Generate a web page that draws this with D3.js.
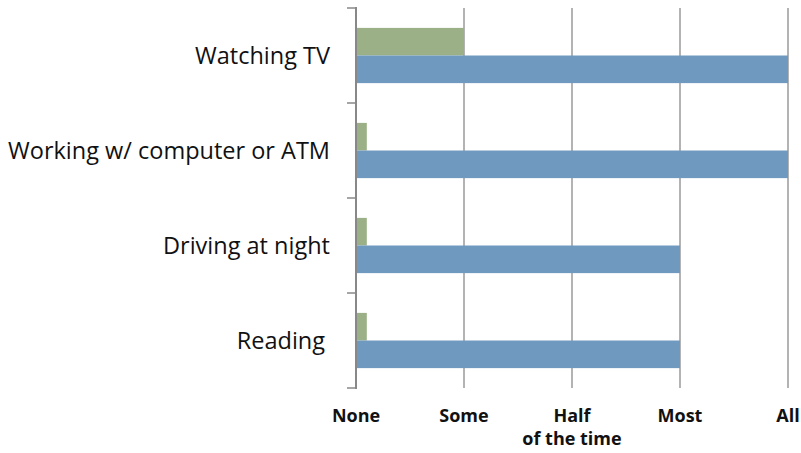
<!DOCTYPE html>
<html><head><meta charset="utf-8">
<script src="https://cdn.jsdelivr.net/npm/d3@7"></script>
<style>body{margin:0;background:#fff}svg{display:block}</style>
</head><body><svg id="c" width="801" height="453"></svg>
<script>
const categories = ["Watching TV", "Working w/ computer or ATM", "Driving at night", "Reading"];
const seriesGreen = [1, 0.1, 0.1, 0.1];
const seriesBlue = [4, 4, 3, 3];
const tickLabels = [["None"], ["Some"], ["Half", "of the time"], ["Most"], ["All"]];
const tickValues = [0, 1, 2, 3, 4];

const svg = d3.select("#c");
const x = d3.scaleLinear().domain([0, 4]).range([356, 788]);
const y = d3.scaleBand().domain(categories).range([8, 388]).paddingInner(0).paddingOuter(0);
const inner = d3.scaleBand().domain(["g", "b"]).range([0, y.bandwidth()]).paddingInner(0).paddingOuter(0.72);

// gridlines
svg.append("g").selectAll("line").data(tickValues.slice(1)).join("line")
  .attr("x1", d => x(d)).attr("x2", d => x(d)).attr("y1", 8).attr("y2", 388)
  .attr("stroke", "#9a9a9a").attr("stroke-width", 1.5);

// bars
const groups = svg.append("g").selectAll("g").data(categories).join("g")
  .attr("transform", d => `translate(0,${y(d)})`);
groups.append("rect").attr("x", x(0)).attr("y", inner("g"))
  .attr("width", (d, i) => x(seriesGreen[i]) - x(0)).attr("height", inner.bandwidth())
  .attr("fill", "#9bb086");
groups.append("rect").attr("x", x(0)).attr("y", inner("b"))
  .attr("width", (d, i) => x(seriesBlue[i]) - x(0)).attr("height", inner.bandwidth())
  .attr("fill", "#7099bf");

// y axis
const yAxis = svg.append("g");
yAxis.append("line").attr("x1", 356).attr("x2", 356).attr("y1", 7).attr("y2", 389)
  .attr("stroke", "#888").attr("stroke-width", 2);
const ybounds = categories.map(c => y(c)).concat([y.range()[1]]);
yAxis.selectAll("line.t").data(ybounds).join("line").attr("class", "t")
  .attr("x1", 347).attr("x2", 356).attr("y1", d => d).attr("y2", d => d)
  .attr("stroke", "#888").attr("stroke-width", 1.5);

// category labels
svg.append("g").selectAll("text").data(categories).join("text")
  .attr("x", d => d === "Reading" ? 325 : 330)
  .attr("y", d => y(d) + y.bandwidth() / 2)
  .attr("dy", "0.35em").attr("text-anchor", "end")
  .attr("font-family", "Open Sans, sans-serif").attr("font-size", 23.5).attr("fill", "#111")
  .text(d => d);

// x tick labels
const xt = svg.append("g").selectAll("text").data(tickValues).join("text")
  .attr("x", d => x(d)).attr("y", 422).attr("text-anchor", "middle")
  .attr("font-family", "Open Sans, sans-serif").attr("font-weight", "bold")
  .attr("font-size", 18).attr("fill", "#111");
xt.selectAll("tspan").data(d => tickLabels[d]).join("tspan")
  .attr("x", function () { return d3.select(this.parentNode).attr("x"); })
  .attr("dy", (d, i) => i === 0 ? 0 : 23).text(d => d);
</script></body></html>
